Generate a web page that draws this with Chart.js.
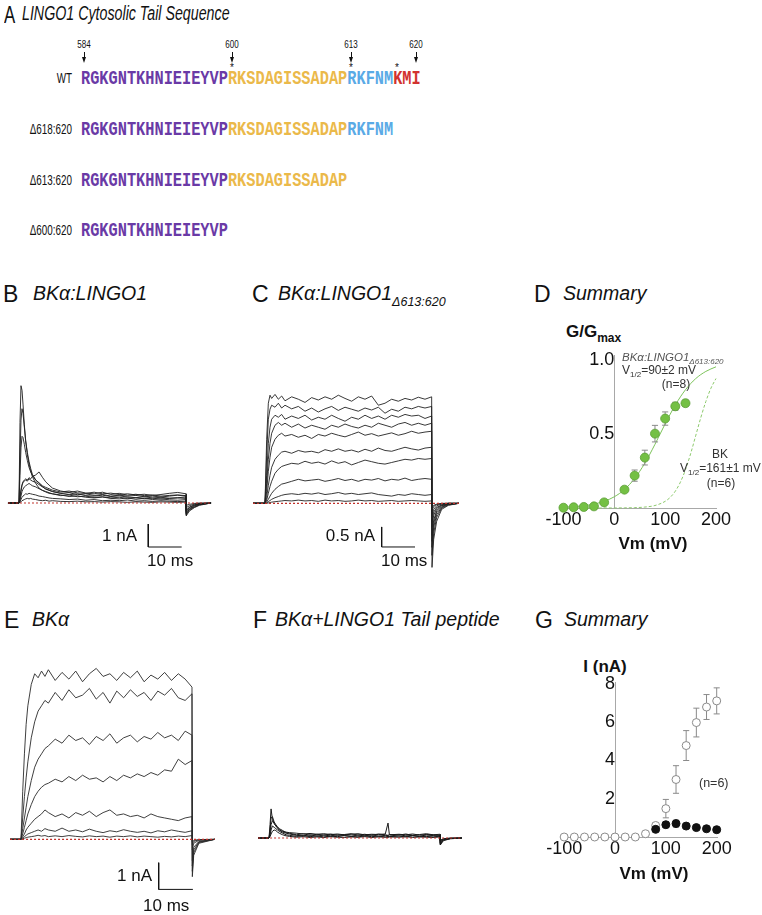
<!DOCTYPE html>
<html><head><meta charset="utf-8">
<script src="https://cdn.jsdelivr.net/npm/chart.js@4/dist/chart.umd.min.js"></script>
<style>
html,body{margin:0;padding:0;background:#fff;}
body{width:762px;height:915px;position:relative;overflow:hidden;font-family:'Liberation Sans',Arial,sans-serif;}
.t{position:absolute;white-space:nowrap;line-height:1;}
canvas{position:absolute;}
.seq{position:absolute;white-space:nowrap;font-family:'Liberation Mono','Courier New',monospace;font-weight:bold;font-size:20px;line-height:1;transform-origin:left center;transform:scaleX(0.765);}
</style></head><body>
<script>
// ================= DATA =================
// Panel A: sequence segments
const seqPurple = 'RGKGNTKHNIEIEYVP';
const seqYellow = 'RKSDAGISSADAP';
const seqBlue = 'RKFNM';
const seqRed = 'KMI';
const residueMarks = ['584', '600', '613', '620'];

// Panel B: BKα:LINGO1 traces (time ms, current nA)
const tB = [-3.3,0,0.3,0.6,0.9,1.2,1.6,2,2.5,3,3.5,4,5,6,7,8,9,10,12.5,15,17.5,20,22.5,25,27.5,30,32.5,35,37.5,40,42.5,45,47.5,50,50.1,51,52.5,54,57.5];
const b1 = [0,0,3.5,5.1,4.9,4.3,3.4,2.7,2.1,1.7,1.4,1.15,0.85,0.65,0.55,0.48,0.42,0.4,0.32,0.35,0.27,0.3,0.24,0.27,0.22,0.25,0.2,0.23,0.18,0.21,0.17,0.2,0.22,0.2,-0.55,-0.35,-0.2,-0.1,0];
const b2 = [0,0,2.0,3.6,4.1,3.9,3.3,2.7,2.2,1.8,1.5,1.25,1.0,0.85,0.72,0.6,0.55,0.5,0.42,0.45,0.36,0.4,0.33,0.37,0.3,0.34,0.3,0.33,0.27,0.3,0.26,0.3,0.34,0.3,-0.5,-0.3,-0.18,-0.08,0];
const b3 = [0,0,1.2,2.4,2.9,2.85,2.55,2.2,1.85,1.55,1.35,1.2,1.0,0.88,0.75,0.68,0.62,0.56,0.48,0.52,0.44,0.42,0.47,0.4,0.43,0.37,0.4,0.35,0.38,0.33,0.37,0.42,0.46,0.4,-0.45,-0.28,-0.15,-0.07,0];
const b4 = [0,0,0.3,0.6,0.8,0.92,1.0,1.05,1.0,1.1,1.05,1.15,1.22,1.35,1.12,0.92,0.78,0.65,0.52,0.46,0.52,0.43,0.4,0.47,0.37,0.42,0.34,0.38,0.32,0.35,0.3,0.33,0.35,0.32,-0.4,-0.25,-0.12,-0.05,0];
const b5 = [0,0,0.2,0.5,0.75,0.9,0.95,1.0,0.95,1.05,1.0,0.95,0.9,0.8,0.7,0.62,0.56,0.5,0.42,0.36,0.4,0.32,0.3,0.34,0.28,0.31,0.26,0.23,0.27,0.22,0.25,0.21,0.23,0.26,-0.35,-0.2,-0.1,-0.04,0];
const b6 = [0,0,0.1,0.3,0.5,0.6,0.7,0.75,0.8,0.85,0.8,0.75,0.7,0.62,0.55,0.5,0.45,0.4,0.35,0.28,0.31,0.25,0.22,0.26,0.2,0.18,0.22,0.16,0.2,0.15,0.18,0.14,0.12,0.15,-0.3,-0.18,-0.08,-0.03,0];
const b7 = [0,0,0.05,0.15,0.25,0.3,0.35,0.4,0.38,0.42,0.4,0.38,0.35,0.3,0.28,0.25,0.22,0.2,0.18,0.15,0.17,0.12,0.15,0.1,0.12,0.1,0.13,0.08,0.1,0.07,0.1,0.08,0.06,0.08,-0.2,-0.12,-0.05,-0.02,0];
const b8 = [0,0,0.02,0.05,0.1,0.12,0.15,0.18,0.2,0.18,0.2,0.17,0.15,0.12,0.1,0.12,0.08,0.1,0.07,0.06,0.08,0.05,0.06,0.04,0.06,0.05,0.03,0.05,0.04,0.03,0.05,0.04,0.03,0.04,-0.1,-0.06,-0.02,0,0];

// Panel C: BKα:LINGO1Δ613:620 traces
const tC = [-3.6,0,0.5,1,1.5,2,3,4,5,6,8,10,12,14,16,18,20,22,24,26,28,30,32,34,36,38,40,42,44,46,48,50,50.1,50.6,51.5,53,55,58.2];
const c1 = [0,0,1.6,2.5,2.7,2.62,2.72,2.6,2.68,2.56,2.66,2.6,2.52,2.64,2.58,2.66,2.6,2.7,2.62,2.55,2.66,2.6,2.68,2.45,2.5,2.6,2.55,2.62,2.58,2.65,2.6,2.66,-1.6,-0.9,-0.45,-0.15,-0.05,0];
const c2 = [0,0,1.2,2.1,2.35,2.45,2.4,2.5,2.38,2.45,2.36,2.42,2.3,2.38,2.28,2.36,2.42,2.32,2.4,2.35,2.3,2.38,2.33,2.4,2.25,2.35,2.3,2.4,2.36,2.42,2.38,2.42,-1.3,-0.75,-0.35,-0.12,-0.04,0];
const c3 = [0,0,0.7,1.5,1.9,2.1,2.2,2.15,2.22,2.1,2.18,2.12,2.2,2.08,2.15,2.1,2.2,2.12,2.05,2.15,2.1,2.2,2.12,2.18,2.1,2.2,2.15,2.22,2.18,2.2,2.12,2.18,-1.1,-0.6,-0.28,-0.1,-0.03,0];
const c4 = [0,0,0.5,1.1,1.5,1.75,1.95,2.02,1.95,2.0,1.9,1.98,1.88,1.95,1.9,1.85,1.95,1.9,1.98,1.92,1.88,1.95,1.9,2.0,1.95,1.9,1.98,2.02,1.95,2.0,1.95,2.0,-0.95,-0.5,-0.22,-0.08,-0.02,0];
const c5 = [0,0,0.3,0.8,1.15,1.4,1.6,1.7,1.75,1.68,1.72,1.65,1.7,1.62,1.72,1.68,1.75,1.7,1.66,1.72,1.78,1.7,1.74,1.68,1.72,1.76,1.7,1.74,1.8,1.75,1.78,1.8,-0.8,-0.42,-0.18,-0.06,-0.02,0];
const c6 = [0,0,0.15,0.45,0.7,0.9,1.1,1.2,1.28,1.3,1.25,1.32,1.28,1.3,1.26,1.34,1.3,1.36,1.3,1.33,1.28,1.35,1.3,1.38,1.32,1.3,1.35,1.4,1.36,1.33,1.38,1.4,-0.6,-0.3,-0.13,-0.05,-0.01,0];
const c7 = [0,0,0.08,0.25,0.42,0.55,0.75,0.85,0.92,0.95,1.0,0.98,1.05,1.0,1.03,0.98,1.06,1.0,1.04,0.96,1.02,1.08,1.04,1.0,0.98,1.02,1.06,1.1,1.08,1.12,1.1,1.12,-0.45,-0.22,-0.1,-0.04,0,0];
const c8 = [0,0,0.03,0.1,0.18,0.25,0.35,0.42,0.48,0.5,0.55,0.6,0.56,0.58,0.6,0.55,0.58,0.62,0.57,0.6,0.55,0.6,0.58,0.62,0.56,0.6,0.58,0.63,0.57,0.6,0.62,0.6,-0.3,-0.15,-0.06,-0.02,0,0];
const c9 = [0,0,0.01,0.04,0.07,0.1,0.14,0.17,0.2,0.22,0.24,0.22,0.25,0.23,0.26,0.22,0.24,0.27,0.23,0.25,0.22,0.24,0.26,0.22,0.2,0.18,0.22,0.2,0.24,0.22,0.2,0.22,-0.18,-0.08,-0.03,-0.01,0,0];
const c10 = [0,0,0,0.01,0.02,0.03,0.04,0.05,0.06,0.07,0.06,0.08,0.06,0.07,0.05,0.08,0.06,0.07,0.05,0.06,0.08,0.06,0.07,0.05,0.06,0.07,0.05,0.06,0.07,0.06,0.05,0.06,-0.1,-0.05,-0.02,0,0,0];

// Panel D: G/Gmax summary
const dV = [-100,-80,-60,-40,-20,20,40,60,80,100,120,140];
const dG = [0.002,0.005,0.007,0.011,0.038,0.124,0.219,0.341,0.503,0.605,0.688,0.709];
const dErr = [0,0,0,0,0.008,0.018,0.038,0.05,0.056,0.045,0.027,0.023];
const fitMutV = [-100,-80,-60,-40,-20,0,20,40,60,80,100,120,140,160,180,200];
const fitMutG = [0.005,0.009,0.015,0.027,0.045,0.076,0.125,0.2,0.303,0.431,0.569,0.697,0.8,0.875,0.924,0.955];
const fitBKV = [-60,-40,-20,0,20,40,60,80,100,110,120,130,140,150,160,170,180,190,200];
const fitBKG = [0,0,0,0.0003,0.0009,0.0024,0.0064,0.017,0.045,0.072,0.114,0.175,0.259,0.366,0.488,0.61,0.72,0.81,0.876];
const dXTicks = [-100,0,100,200];
const dYTicks = [0.5,1.0];

// Panel E: BKα traces
const tE = [-3.2,0,0.5,1,1.5,2,3,4,5,6,7,8,10,12,14,16,18,20,22,24,26,28,30,32,34,36,38,40,42,44,46,48,50,50.1,50.5,52,56.7];
const e1 = [0,0,1.8,3.2,4.3,5.0,5.8,6.2,6.05,6.3,6.1,6.35,5.95,6.25,6.0,6.3,5.9,6.2,6.4,6.1,6.2,5.95,6.25,6.05,6.3,5.9,6.15,6.0,6.25,5.95,6.2,6.0,5.7,-1.4,-0.6,-0.15,0];
const e2 = [0,0,0.8,1.6,2.3,2.9,3.8,4.4,4.8,5.0,5.2,5.1,5.5,5.2,5.6,5.3,5.4,5.65,5.25,5.5,5.1,5.55,5.3,5.6,5.35,5.5,5.2,5.55,5.4,5.65,5.3,5.2,5.45,-1.2,-0.5,-0.12,0];
const e3 = [0,0,0.4,0.8,1.2,1.6,2.2,2.7,3.0,3.2,3.4,3.5,3.75,3.6,3.9,3.7,3.8,3.55,3.85,3.7,3.95,3.6,3.8,3.9,3.65,3.85,3.75,4.0,3.8,3.9,3.7,4.05,3.9,-1.0,-0.4,-0.1,0];
const e4 = [0,0,0.2,0.45,0.7,0.95,1.3,1.6,1.8,1.95,2.05,2.1,2.25,2.15,2.35,2.2,2.4,2.25,2.3,2.15,2.35,2.2,2.4,2.3,2.45,2.35,2.5,2.4,2.6,2.55,3.0,2.8,2.95,-0.8,-0.3,-0.08,0];
const e5 = [0,0,0.1,0.2,0.35,0.45,0.6,0.75,0.85,0.95,1.1,1.0,0.85,0.95,0.8,1.0,0.9,1.05,0.85,1.0,1.1,0.9,0.95,0.85,0.9,0.8,0.95,0.85,0.8,0.75,0.7,0.8,0.85,-0.4,-0.15,-0.04,0];
const e6 = [0,0,0.05,0.1,0.15,0.2,0.25,0.3,0.35,0.3,0.4,0.35,0.3,0.42,0.3,0.35,0.28,0.38,0.3,0.25,0.32,0.28,0.36,0.3,0.26,0.3,0.24,0.32,0.28,0.35,0.3,0.26,0.32,-0.2,-0.08,-0.02,0];
const e7 = [0,0,0.02,0.04,0.06,0.08,0.1,0.12,0.15,0.12,0.14,0.1,0.13,0.1,0.14,0.11,0.09,0.13,0.1,0.12,0.08,0.12,0.1,0.13,0.09,0.12,0.1,0.08,0.11,0.09,0.12,0.1,0.14,-0.1,-0.04,-0.01,0];

// Panel F: BKα + LINGO1 tail peptide traces
const tF = [-3.2,0,0.3,0.6,1,1.5,2,2.5,3,4,5,6,8,10,12,14,16,18,20,22,24,26,28,30,32,34,34.8,35.2,38,40,42,44,46,48,50,50.1,51,53,56.4];
const f1 = [0,0,0.5,1.09,0.7,0.55,0.45,0.38,0.3,0.25,0.22,0.2,0.18,0.15,0.17,0.14,0.16,0.13,0.15,0.12,0.14,0.16,0.12,0.14,0.13,0.15,0.56,0.12,0.14,0.12,0.15,0.11,0.13,0.12,0.14,-0.26,-0.1,-0.03,0];
const f2 = [0,0,0.3,0.75,0.8,0.6,0.5,0.42,0.35,0.28,0.2,0.18,0.12,0.16,0.1,0.14,0.11,0.15,0.1,0.13,0.16,0.11,0.14,0.1,0.15,0.12,0.1,0.13,0.11,0.15,0.1,0.13,0.16,0.12,0.1,-0.22,-0.08,-0.02,0];
const f3 = [0,0,0.2,0.5,0.65,0.55,0.45,0.38,0.3,0.22,0.18,0.15,0.1,0.08,0.12,0.07,0.11,0.08,0.12,0.09,0.07,0.11,0.08,0.12,0.07,0.1,0.09,0.07,0.12,0.08,0.1,0.07,0.11,0.09,0.08,-0.18,-0.06,-0.02,0];
const f4 = [0,0,0.1,0.3,0.45,0.4,0.35,0.3,0.25,0.18,0.12,0.1,0.06,0.09,0.05,0.08,0.04,0.07,0.05,0.09,0.06,0.04,0.08,0.05,0.07,0.04,0.06,0.05,0.07,0.04,0.08,0.05,0.06,0.04,0.07,-0.12,-0.04,-0.01,0];
const f5 = [0,0,0.05,0.15,0.25,0.3,0.28,0.22,0.18,0.12,0.08,0.06,0.03,0.05,0.02,0.04,0.02,0.05,0.03,0.02,0.04,0.03,0.05,0.02,0.04,0.03,0.02,0.04,0.03,0.05,0.02,0.04,0.03,0.02,0.04,-0.08,-0.03,0,0];

// Panel G: I-V summary
const gV = [-100,-80,-60,-40,-20,0,20,40,60,80,100,120,140,160,180,200];
const gBK = [0,0,0,0,0,0,0,0,0.17,0.6,1.48,3.0,4.77,5.97,6.78,7.1];
const gBKErr = [0,0,0,0,0,0,0,0,0.05,0.12,0.48,0.72,0.78,0.75,0.65,0.68];
const gPepV = [80,100,120,140,160,180,200];
const gPep = [0.4,0.64,0.7,0.57,0.49,0.43,0.38];
const gPepErr = [0.06,0.14,0.18,0.08,0.05,0.05,0.04];
const gXTicks = [-100,0,100,200];
const gYTicks = [2,4,6,8];

// ================= HELPERS =================
const SANS = "'Liberation Sans', Arial, sans-serif";
function T(html, x, y, size, o = {}) {
  const d = document.createElement('div');
  d.className = 't';
  d.innerHTML = html;
  d.style.fontFamily = o.family || SANS;
  d.style.fontSize = size + 'px';
  if (o.italic) d.style.fontStyle = 'italic';
  if (o.bold) d.style.fontWeight = 'bold';
  d.style.color = o.color || '#111';
  d.style.top = (y - 0.4885 * size) + 'px';
  d.style.left = x + 'px';
  const sx = o.sx || 1, al = o.align || 'left';
  if (al === 'left') { d.style.transformOrigin = 'left center'; d.style.transform = `scaleX(${sx})`; }
  else if (al === 'right') { d.style.transformOrigin = 'right center'; d.style.transform = `translateX(-100%) scaleX(${sx})`; }
  else { d.style.transformOrigin = 'center center'; d.style.transform = `translateX(-50%) scaleX(${sx})`; }
  document.body.appendChild(d);
  return d;
}
function box(x, y, w, h, css) {
  const d = document.createElement('div');
  d.style.position = 'absolute';
  d.style.left = x + 'px'; d.style.top = y + 'px';
  d.style.width = w + 'px'; d.style.height = h + 'px';
  Object.assign(d.style, css || {});
  document.body.appendChild(d);
}
function arrow(x) {
  box(x - 0.5, 52, 1, 6, {background: '#111'});
  box(x - 2.5, 57, 0, 0, {borderLeft: '2.5px solid transparent', borderRight: '2.5px solid transparent', borderTop: '6px solid #111'});
}
function mkCanvas(left, top, w, h) {
  const c = document.createElement('canvas');
  c.width = w; c.height = h;
  c.style.left = left + 'px'; c.style.top = top + 'px';
  c.style.width = w + 'px'; c.style.height = h + 'px';
  document.body.appendChild(c);
  return c;
}
const pts = (X, Y) => X.map((x, i) => ({x, y: Y[i]}));
const traceDS = (X, Y, color, w) => ({data: pts(X, Y), borderColor: color, borderWidth: w, pointRadius: 0, fill: false, order: 2});
const redBase = (t0, t1) => ({data: [{x: t0, y: 0}, {x: t1, y: 0}], borderColor: '#c0302a', borderWidth: 1.2, borderDash: [2, 2], pointRadius: 0, order: 0});
const scaleBar = (t, i, dt, di) => ({data: [{x: t, y: i}, {x: t, y: i - di}, {x: t + dt, y: i - di}], borderColor: '#111', borderWidth: 1, pointRadius: 0, order: 0});

function traceChart(left, top, w, h, xr, yr, datasets) {
  const c = mkCanvas(left, top, w, h);
  new Chart(c, {
    type: 'line', data: {datasets},
    options: {
      responsive: false, animation: false, devicePixelRatio: 1, events: [],
      layout: {padding: 0},
      plugins: {legend: {display: false}, tooltip: {enabled: false}},
      scales: {
        x: {type: 'linear', display: false, min: xr[0], max: xr[1]},
        y: {type: 'linear', display: false, min: yr[0], max: yr[1]}
      },
      elements: {point: {radius: 0}, line: {tension: 0}}
    }
  });
}
function errBars(X, Y, E, cap) {
  const out = [];
  X.forEach((x, i) => {
    if (!E[i]) return;
    const lo = Y[i] - E[i], hi = Y[i] + E[i];
    out.push({x, y: lo}, {x, y: hi}, {x, y: null},
             {x: x - cap, y: hi}, {x: x + cap, y: hi}, {x, y: null},
             {x: x - cap, y: lo}, {x: x + cap, y: lo}, {x, y: null});
  });
  return out;
}
function summaryChart(left, top, w, h, pad, xr, yr, xTicks, yTicks, yFmt, datasets) {
  const c = mkCanvas(left, top, w, h);
  const tickFont = {family: SANS, size: 18};
  new Chart(c, {
    type: 'line', data: {datasets},
    options: {
      responsive: false, animation: false, devicePixelRatio: 1, events: [],
      layout: {padding: pad},
      plugins: {legend: {display: false}, tooltip: {enabled: false}},
      scales: {
        x: {type: 'linear', min: xr[0], max: xr[1], position: 'bottom',
            grid: {display: false, drawTicks: false},
            border: {display: true, color: '#a8a8a8', width: 1},
            ticks: {color: '#111', font: tickFont, padding: 1, maxRotation: 0, autoSkip: false, callback: v => String(v)},
            afterBuildTicks: s => { s.ticks = xTicks.map(v => ({value: v})); },
            afterFit: s => { s.height = 28; }},
        y: {type: 'linear', min: yr[0], max: yr[1], position: {x: 0},
            grid: {display: false, drawTicks: false},
            border: {display: true, color: '#a8a8a8', width: 1},
            ticks: {color: '#111', font: tickFont, padding: 4, autoSkip: false, callback: yFmt},
            afterBuildTicks: s => { s.ticks = yTicks.map(v => ({value: v})); }}
      }
    }
  });
}

// ================= PANEL A =================
T('A', 4, 15, 23, {sx: 0.73});
T('LINGO1 Cytosolic Tail Sequence', 22, 14, 19.5, {italic: true, sx: 0.73});
const markX = [84, 232, 351, 416];
residueMarks.forEach((m, i) => { T(m, markX[i], 44, 11, {align: 'center', sx: 0.73}); arrow(markX[i]); });
[232, 351, 397].forEach(x => T('*', x, 68, 10, {align: 'center'}));
const rowY = [78, 129, 180, 230];
const rowLabels = ['WT', 'Δ618:620', 'Δ613:620', 'Δ600:620'];
const rowSegs = [4, 3, 2, 1];
const segs = [[seqPurple, '#6a3aa6'], [seqYellow, '#ebb94a'], [seqBlue, '#5aaae6'], [seqRed, '#d2332f']];
rowLabels.forEach((lab, i) => {
  T(lab, 72, rowY[i], 14.5, {align: 'right', sx: 0.68});
  const d = document.createElement('div');
  d.className = 'seq';
  d.style.left = '81px';
  d.style.top = (rowY[i] - 8.7) + 'px';
  d.innerHTML = segs.slice(0, rowSegs[i]).map(s => `<span style="color:${s[1]}">${s[0]}</span>`).join('');
  document.body.appendChild(d);
});

// ================= PANEL HEADERS =================
T('B', 3, 294, 23);
T('BKα:LINGO1', 33, 294, 19.5, {italic: true});
T('C', 252, 294, 23);
T('BKα:LINGO1<span style="font-size:12.5px;position:relative;top:6px">Δ613:620</span>', 278, 294, 19.5, {italic: true});
T('D', 534, 294, 23);
T('Summary', 563, 294, 19.5, {italic: true});
T('E', 4, 620, 23);
T('BKα', 32, 620, 19.5, {italic: true});
T('F', 253, 620, 23);
T('BKα+LINGO1 Tail peptide', 275, 620, 19.5, {italic: true});
T('G', 535, 620, 23);
T('Summary', 564, 620, 19.5, {italic: true});

// ================= PANEL B =================
const bColors = '#1e1e1e';
traceChart(5, 375, 210, 185, [-4.19, 58.68], [-2.478, 5.565],
  [redBase(-3.3, 57.5), scaleBar(38.7, -0.913, 10, 1)]
    .concat([b1, b2, b3, b4, b5, b6, b7, b8].map(y => traceDS(tB, y, bColors, 0.9))));
T('1 nA', 137, 535.5, 17, {align: 'right'});
T('10 ms', 147, 560.5, 17);

// ================= PANEL C =================
traceChart(245, 380, 220, 195, [-6.0, 60.0], [-1.79, 3.08],
  [redBase(-3.6, 58.2), scaleBar(35.0, -0.59, 10, 0.5)]
    .concat([c1, c2, c3, c4, c5, c6, c7, c8, c9, c10].map(y => traceDS(tC, y, '#222', 0.9))));
T('0.5 nA', 375, 535.5, 17, {align: 'right'});
T('10 ms', 381, 560.5, 17);

// ================= PANEL D =================
T('G/G<span style="font-size:12px;position:relative;top:5px">max</span>', 566, 331, 17, {bold: true});
summaryChart(538, 339, 200, 197, {left: 22, right: 22, top: 16, bottom: 0},
  [-106.8, 200], [0, 1.035], dXTicks, dYTicks, v => v.toFixed(1), [
    {data: pts(dV, dG), showLine: false, pointRadius: 4.5, pointBackgroundColor: '#74c044', pointBorderColor: '#5c9e36', pointBorderWidth: 0.8, clip: false, order: 0},
    {data: errBars(dV, dG, dErr, 6), borderColor: '#8a8a8a', borderWidth: 1, pointRadius: 0, clip: false, order: 3},
    {data: pts(fitMutV, fitMutG), borderColor: '#7cc35a', borderWidth: 1, pointRadius: 0, cubicInterpolationMode: 'monotone', clip: false, order: 4},
    {data: pts(fitBKV, fitBKG), borderColor: '#8cc96c', borderWidth: 1, borderDash: [3, 2], pointRadius: 0, cubicInterpolationMode: 'monotone', clip: false, order: 4}
  ]);
T('BKα:LINGO1<span style="font-size:8px;position:relative;top:3px">Δ613:620</span>', 622, 358, 11.5, {italic: true, color: '#555'});
T('V<span style="font-size:8px;position:relative;top:3px">1/2</span>=90±2 mV', 622, 370, 12, {color: '#333'});
T('(n=8)', 676, 384, 12, {align: 'center', color: '#333'});
T('BK', 720, 454, 12, {align: 'center', color: '#333'});
T('V<span style="font-size:8px;position:relative;top:3px">1/2</span>=161±1 mV', 680, 468, 12, {color: '#333'});
T('(n=6)', 721, 483, 12, {align: 'center', color: '#333'});
T('Vm (mV)', 653, 543, 17, {bold: true, align: 'center'});

// ================= PANEL E =================
traceChart(5, 660, 215, 235, [-4.68, 58.19], [-2.086, 6.715],
  [redBase(-3.2, 56.7), scaleBar(40.26, -0.876, 10, 1)]
    .concat([e1, e2, e3, e4, e5, e6, e7].map(y => traceDS(tE, y, '#2a2a2a', 0.9))));
T('1 nA', 152, 875, 17, {align: 'right'});
T('10 ms', 143, 905, 17);

// ================= PANEL F =================
traceChart(250, 790, 220, 70, [-5.56, 58.77], [-0.824, 1.798],
  [redBase(-3.2, 56.4)].concat([f1, f2, f3, f4, f5].map(y => traceDS(tF, y, '#1a1a1a', 1))));

// ================= PANEL G =================
T('I (nA)', 605, 666, 17, {bold: true, align: 'center'});
summaryChart(539, 666, 200, 199, {left: 22, right: 22, top: 16, bottom: 0},
  [-106.2, 200.6], [0, 8.085], gXTicks, gYTicks, v => String(v), [
    {data: pts(gPepV, gPep), showLine: false, pointRadius: 4, pointBackgroundColor: '#111', pointBorderColor: '#111', pointBorderWidth: 1, clip: false, order: 0},
    {data: pts(gV, gBK), showLine: false, pointRadius: 4, pointBackgroundColor: '#fff', pointBorderColor: '#8a8a8a', pointBorderWidth: 1, clip: false, order: 1},
    {data: errBars(gV, gBK, gBKErr, 6), borderColor: '#8a8a8a', borderWidth: 1, pointRadius: 0, clip: false, order: 3},
    {data: errBars(gPepV, gPep, gPepErr, 6), borderColor: '#8a8a8a', borderWidth: 1, pointRadius: 0, clip: false, order: 3}
  ]);
T('(n=6)', 699, 783, 12.5, {color: '#333'});
T('Vm (mV)', 654, 873, 17, {bold: true, align: 'center'});
</script>
</body></html>
